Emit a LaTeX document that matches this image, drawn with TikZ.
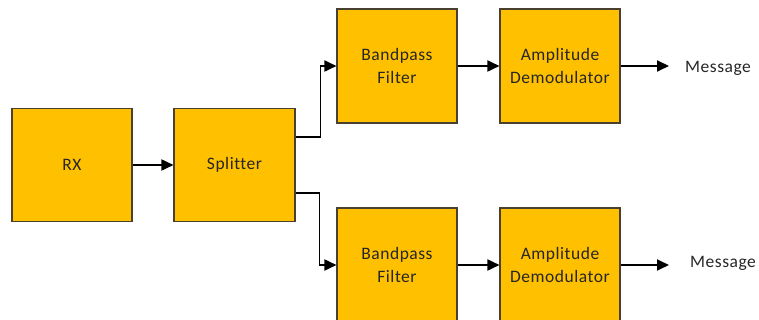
\documentclass[tikz,border=0pt]{standalone}
\usepackage{fontspec}
\setmainfont{Carlito}[LetterSpace=3,Ligatures={NoCommon}]
\usetikzlibrary{arrows.meta}
\definecolor{gold}{HTML}{FFC000}
\definecolor{edge}{HTML}{4A4030}
\definecolor{txt}{HTML}{262626}
\tikzset{
  blk/.style={draw=edge, line width=1.1pt, fill=gold, minimum width=120pt, minimum height=113pt,
    inner sep=0pt, align=center, text=txt, font=\fontsize{17.5}{23}\selectfont},
  arr/.style={draw=black, line width=1.8pt, -{Triangle[length=12pt,width=11pt]}},
  msg/.style={anchor=west, inner sep=0pt, text=txt, font=\fontsize{17.5}{20}\selectfont}
}
\begin{document}
\begin{tikzpicture}[x=1pt,y=-1pt]
\useasboundingbox (0,0) rectangle (759,320);
\clip (0,0) rectangle (759,320);
\node[blk] (rx) at (72,165) {RX};
\node[blk, minimum width=121pt] (spl) at (234.5,165) {Splitter};
\node[blk, minimum height=114pt] (bpf1) at (397,66) {Bandpass\\Filter};
\node[blk, minimum height=114pt] (ad1) at (560,66) {Amplitude\\Demodulator};
\node[blk, minimum height=114pt] (bpf2) at (397,265) {Bandpass\\Filter};
\node[blk, minimum height=114pt] (ad2) at (560,265) {Amplitude\\Demodulator};
\coordinate (o1) at (669,66);
\coordinate (o2) at (669,265);
\node[msg] (m1) at (685,68) {Message};
\node[msg] (m2) at (690,263) {Message};
\draw[arr] (rx.east) -- (spl.west);
\draw[arr] ([yshift=28pt]spl.east) -- ++(25,0) |- (bpf1.west);
\draw[arr] ([yshift=-28pt]spl.east) -- ++(24,0) |- (bpf2.west);
\draw[arr] (bpf1.east) -- (ad1.west);
\draw[arr] (bpf2.east) -- (ad2.west);
\draw[arr] (ad1.east) -- (o1);
\draw[arr] (ad2.east) -- (o2);
\end{tikzpicture}
\end{document}
